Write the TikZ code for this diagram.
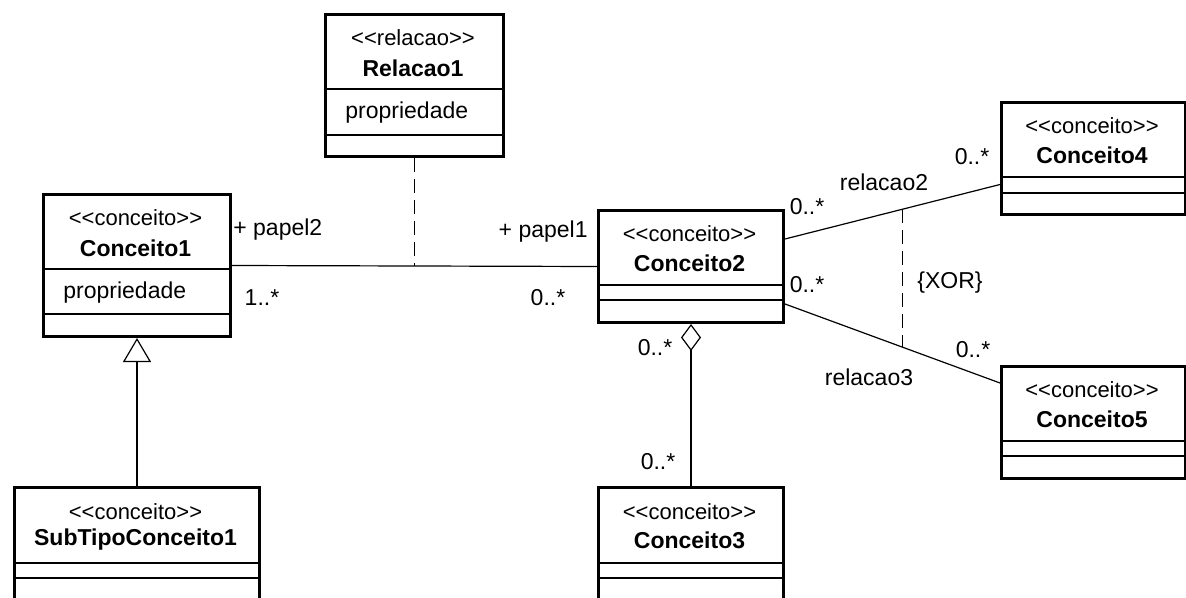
\documentclass[tikz,border=0pt]{standalone}
\usepackage{fontspec}
\setmainfont{Liberation Sans}[Ligatures=TeXOff]
\usetikzlibrary{arrows.meta}
\usetikzlibrary{positioning}

\tikzset{
	classbox/.style={draw, rectangle, line width=1.5pt, anchor=north west, inner sep=0pt, fill=white},
	stereo/.style={inner sep=0pt, font=\fontsize{11}{13}\selectfont},
	cname/.style={inner sep=0pt, font=\fontsize{11.5}{13}\selectfont\bfseries},
	attr/.style={inner sep=0pt, anchor=west, font=\fontsize{11.5}{13}\selectfont},
	divider/.style={line width=0.6pt},
	link/.style={line width=0.6pt},
	note/.style={line width=0.6pt, dash pattern=on 7pt off 3.5pt},
	mult/.style={inner sep=0pt, font=\fontsize{11.5}{13}\selectfont},
}

\begin{document}
\begin{tikzpicture}[x=0.5pt, y=-0.5pt]
	\useasboundingbox (0,0) rectangle (1186,598);

	% Conceito1
	\begin{scope}[shift={(42,193)}]
		\node[classbox, minimum width=93.5pt, minimum height=71pt] (c1) at (0,0) {};
		\draw[divider] (0,76) -- (187,76);
		\draw[divider] (0,121) -- (187,121);
		\node[stereo] (c1s) at (93.5,25) {<<conceito>>};
		\node[cname] (c1n) at (93.5,55) {Conceito1};
		\node[attr] (c1a) at (21,100) {propriedade};
	\end{scope}

	% Relacao1
	\begin{scope}[shift={(324,13)}]
		\node[classbox, minimum width=89pt, minimum height=71pt] (r1) at (0,0) {};
		\draw[divider] (0,76) -- (178,76);
		\draw[divider] (0,122) -- (178,122);
		\node[stereo] (r1s) at (89,25) {<<relacao>>};
		\node[cname] (r1n) at (89,55) {Relacao1};
		\node[attr] (r1a) at (21,100) {propriedade};
	\end{scope}

	% Conceito2
	\begin{scope}[shift={(597,209)}]
		\node[classbox, minimum width=92.5pt, minimum height=56pt] (c2) at (0,0) {};
		\draw[divider] (0,76) -- (185,76);
		\draw[divider] (0,91) -- (185,91);
		\node[stereo] (c2s) at (92.5,25) {<<conceito>>};
		\node[cname] (c2n) at (92.5,54) {Conceito2};
	\end{scope}

	% Conceito4
	\begin{scope}[shift={(1000,101)}]
		\node[classbox, minimum width=92pt, minimum height=56pt] (c4) at (0,0) {};
		\draw[divider] (0,76) -- (184,76);
		\draw[divider] (0,92) -- (184,92);
		\node[stereo] (c4s) at (92,25) {<<conceito>>};
		\node[cname] (c4n) at (92,54) {Conceito4};
	\end{scope}

	% Conceito5
	\begin{scope}[shift={(1000,365)}]
		\node[classbox, minimum width=92pt, minimum height=56pt] (c5) at (0,0) {};
		\draw[divider] (0,76) -- (184,76);
		\draw[divider] (0,91) -- (184,91);
		\node[stereo] (c5s) at (92,25) {<<conceito>>};
		\node[cname] (c5n) at (92,54) {Conceito5};
	\end{scope}

	% Conceito3
	\begin{scope}[shift={(597,486)}]
		\node[classbox, minimum width=92.5pt, minimum height=56pt] (c3) at (0,0) {};
		\draw[divider] (0,77) -- (185,77);
		\draw[divider] (0,92) -- (185,92);
		\node[stereo] (c3s) at (92.5,26) {<<conceito>>};
		\node[cname] (c3n) at (92.5,54) {Conceito3};
	\end{scope}

	% SubTipoConceito1
	\begin{scope}[shift={(13,486)}]
		\node[classbox, minimum width=122.5pt, minimum height=56pt] (sub) at (0,0) {};
		\draw[divider] (0,77) -- (245,77);
		\draw[divider] (0,92) -- (245,92);
		\node[stereo] (subs) at (122.5,26) {<<conceito>>};
		\node[cname] (subn) at (122.5,54) {SubTipoConceito1};
	\end{scope}

	% associations
	\draw[link] (c1.east) -- coordinate[midway] (m12) (c2.west);
	\draw[note] (r1.south) -- (m12);
	\draw[link] ([yshift=-15pt]c2.north east) -- coordinate[pos=0.546] (x2) ([yshift=-13pt]c4.west);
	\draw[link] ([yshift=10pt]c2.south east) -- coordinate[pos=0.546] (x3) ([yshift=-9pt]c5.north west);
	\draw[note] (x2) -- (x3);
	\draw[link, {Diamond[open, length=13.5pt, width=10pt]}-] (c2.south) -- (c3.north);
	\draw[link, -{Triangle[open, length=12pt, width=14pt]}] (sub.north) -- (c1.south);

	% labels
	\node[mult, anchor=west] (p2) at (233,230) {+ papel2};
	\node[mult] (k1) at (262,298) {1..*};
	\node[mult, anchor=east] (p1) at (588,232) {+ papel1};
	\node[mult] (k2) at (548,298) {0..*};
	\node[mult] (k3) at (807,207) {0..*};
	\node[mult] (rel2) at (884,182) {relacao2};
	\node[mult] (k4) at (972,157) {0..*};
	\node[mult] (xor) at (950,283) {\{XOR\}};
	\node[mult] (k5) at (807,285) {0..*};
	\node[mult] (k6) at (973,350) {0..*};
	\node[mult] (rel3) at (869,377) {relacao3};
	\node[mult] (k7) at (655,348) {0..*};
	\node[mult] (k8) at (658,462) {0..*};
\end{tikzpicture}
\end{document}
